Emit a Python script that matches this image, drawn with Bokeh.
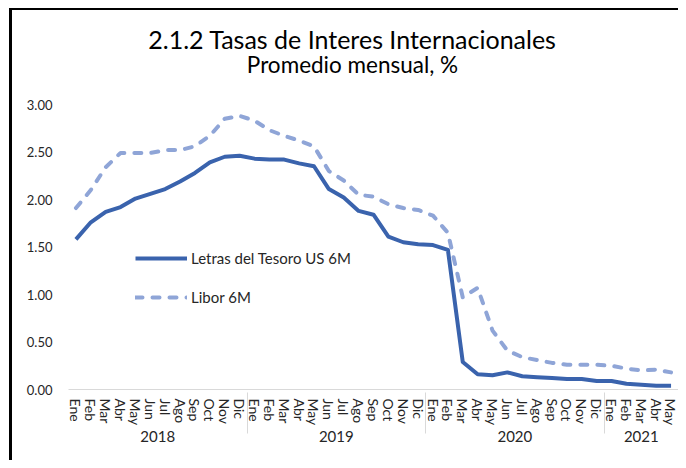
from bokeh.plotting import figure
from bokeh.models import (FactorRange, Range1d, FixedTicker, NumeralTickFormatter,
                          Legend, LegendItem, Label, ColumnDataSource)
from bokeh.embed import file_html
from bokeh.resources import INLINE

years = ["2018", "2019", "2020", "2021"]
months = ["Ene", "Feb", "Mar", "Abr", "May", "Jun", "Jul", "Ago", "Sep", "Oct", "Nov", "Dic"]
months_per_year = [12, 12, 12, 5]

letras = [1.58, 1.76, 1.87, 1.92, 2.01, 2.06, 2.11, 2.19, 2.28, 2.39, 2.45, 2.46,
          2.43, 2.42, 2.42, 2.38, 2.35, 2.11, 2.02, 1.88, 1.84, 1.61, 1.55, 1.53,
          1.52, 1.47, 0.29, 0.16, 0.15, 0.18, 0.14, 0.13, 0.12, 0.11, 0.11, 0.09,
          0.09, 0.06, 0.05, 0.04, 0.04]
libor = [1.91, 2.10, 2.34, 2.49, 2.49, 2.49, 2.52, 2.52, 2.56, 2.67, 2.85, 2.88,
         2.83, 2.73, 2.67, 2.62, 2.56, 2.30, 2.20, 2.05, 2.03, 1.95, 1.91, 1.89,
         1.83, 1.65, 0.97, 1.07, 0.62, 0.41, 0.34, 0.31, 0.28, 0.26, 0.26, 0.26,
         0.25, 0.22, 0.20, 0.21, 0.18]
y_ticks = [0.0, 0.5, 1.0, 1.5, 2.0, 2.5, 3.0]
title_text = "2.1.2 Tasas de Interes Internacionales"
subtitle_text = "Promedio mensual, %"

factors = [(y, m) for y, n in zip(years, months_per_year) for m in months[:n]]
src = ColumnDataSource(dict(x=factors, letras=letras, libor=libor))

FONT = "Lato"
W, H = 678, 460
LEFT, BOTTOM = 68, 71
PLOT_TOP = 104            # pixel row of the 3.00 gridline
frame_h = H - BOTTOM      # frame spans from the top of the figure
y_end = 3.0 * frame_h / (frame_h - PLOT_TOP)

p = figure(width=W, height=H, output_backend="svg", toolbar_location=None,
           x_range=FactorRange(*factors, group_padding=0, range_padding=0, factor_padding=0),
           y_range=Range1d(0, y_end),
           min_border_left=LEFT, min_border_right=0, min_border_top=0, min_border_bottom=BOTTOM,
           styles={"background": "linear-gradient(#000,#000) 9px 8px / 3px 100% no-repeat, "
                                 "linear-gradient(#000,#000) 9px 8px / 100% 2px no-repeat"})
p.border_fill_alpha = 0
p.background_fill_alpha = 0
p.outline_line_color = None
p.xgrid.grid_line_color = None
p.ygrid.grid_line_color = None

# titles placed in screen units relative to the plot frame (frame bottom-left origin)
p.add_layout(Label(x=352 - LEFT, y=frame_h - 38, x_units="screen", y_units="screen",
                   text=title_text, text_align="center", text_baseline="middle",
                   text_font=FONT, text_font_size="25px", text_color="#000000"))
p.add_layout(Label(x=352 - LEFT, y=frame_h - 64, x_units="screen", y_units="screen",
                   text=subtitle_text, text_align="center", text_baseline="middle",
                   text_font=FONT, text_font_size="22.5px", text_color="#000000"))

r1 = p.line("x", "letras", source=src, line_color="#3A63AD", line_width=4, line_join="round")
r2 = p.line("x", "libor", source=src, line_color="#8FA5D7", line_width=4,
            line_dash="7 10", line_cap="round", line_join="round")

p.yaxis.ticker = FixedTicker(ticks=y_ticks)
p.yaxis.formatter = NumeralTickFormatter(format="0.00")
p.yaxis.axis_line_color = None
p.yaxis.major_tick_line_color = None
p.yaxis.minor_tick_line_color = None
p.yaxis.major_label_standoff = 10
p.yaxis.major_label_text_font = FONT
p.yaxis.major_label_text_font_size = "13px"
p.yaxis.major_label_text_color = "#262626"

p.xaxis.axis_line_color = "#D9D9D9"
p.xaxis.major_tick_line_color = None
p.xaxis.minor_tick_line_color = None
p.xaxis.major_label_orientation = "vertical"
p.xaxis.major_label_standoff = 3
p.xaxis.major_label_text_font = FONT
p.xaxis.major_label_text_font_size = "14px"
p.xaxis.major_label_text_color = "#262626"
p.xaxis.group_text_font = FONT
p.xaxis.group_text_font_size = "15px"
p.xaxis.group_text_color = "#262626"
p.xaxis.group_text_font_style = "normal"
p.xaxis.separator_line_color = "#D9D9D9"
p.xaxis.separator_line_width = 1

legend = Legend(items=[LegendItem(label="Letras del Tesoro US 6M", renderers=[r1]),
                       LegendItem(label="Libor 6M", renderers=[r2])],
                location=(67, 82), border_line_color=None, background_fill_alpha=0,
                padding=0, margin=0, spacing=19, glyph_width=52, glyph_height=20,
                label_height=20, label_standoff=4, label_text_font=FONT,
                label_text_font_size="15px", label_text_color="#262626")
p.add_layout(legend, "center")

open("out.html", "w").write(file_html(p, INLINE))
